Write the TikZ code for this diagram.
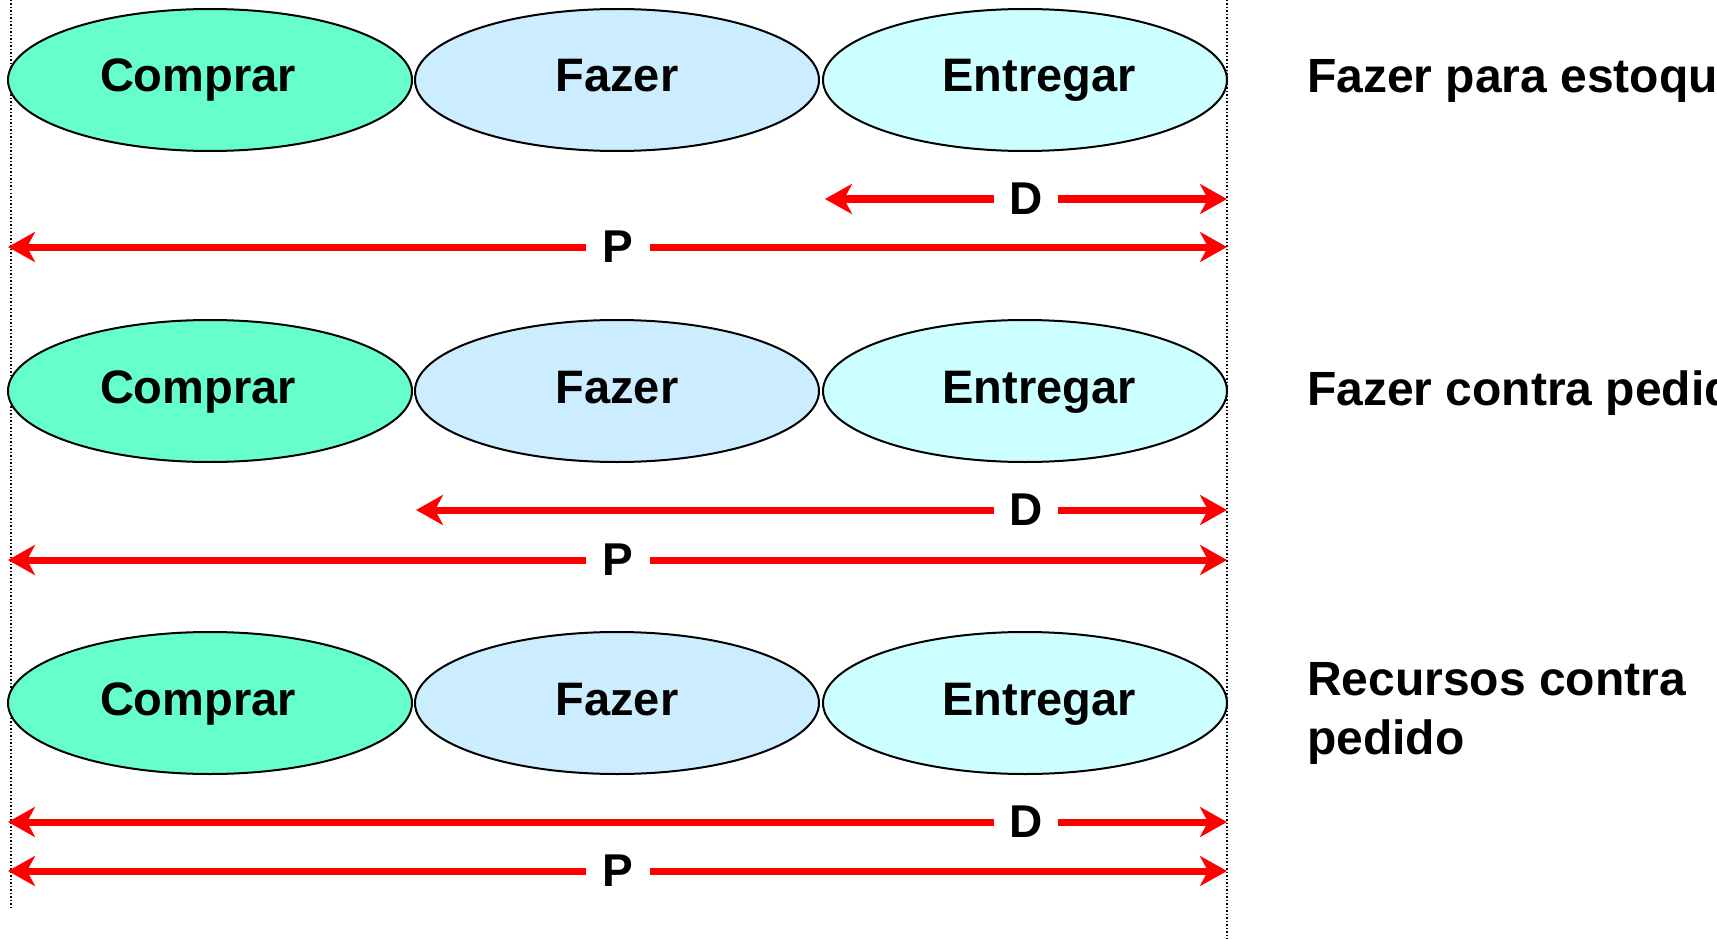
\documentclass[tikz,border=0pt]{standalone}
\usepackage{fontspec}
\setmainfont{Liberation Sans}
\usetikzlibrary{shapes.geometric,arrows.meta}
\definecolor{buycol}{HTML}{66FFCC}
\definecolor{makecol}{HTML}{CCECFF}
\definecolor{delcol}{HTML}{CCFFFF}
\definecolor{arrred}{HTML}{FF0000}
\begin{document}
\begin{tikzpicture}[x=1pt,y=-1pt,
  stage/.style={ellipse,draw=black,line width=2pt,minimum width=404pt,minimum height=142pt,inner sep=0pt,text height=34pt,text depth=10pt,font=\fontsize{47}{56}\selectfont\bfseries},
  buy/.style={stage,fill=buycol},
  make/.style={stage,fill=makecol},
  deliver/.style={stage,fill=delcol},
  redarr/.style={draw=arrred,line width=7pt,-{Stealth[length=27pt,width=30pt,inset=8pt]}},
  lab/.style={font=\fontsize{46}{55}\selectfont\bfseries,inner sep=0pt,minimum width=63pt},
  side/.style={font=\fontsize{48}{59}\selectfont\bfseries,anchor=west,align=left,inner sep=0pt},
  guide/.style={draw=black,dotted,line width=1.5pt}]
\useasboundingbox (0,0) rectangle (1717,939);
\clip (0,0) rectangle (1717,939);
% guide lines
\coordinate (gl1) at (11,0); \coordinate (gl2) at (11,907);
\coordinate (gr1) at (1227,0); \coordinate (gr2) at (1227,939);
\draw[guide] (gl1) -- (gl2);
\draw[guide] (gr1) -- (gr2);
% rows
\foreach \r/\y in {1/80, 2/391, 3/703}{
  \node[buy] (buy\r) at (210,\y) {Comprar\hspace*{24pt}};
  \node[make] (make\r) at (617,\y) {Fazer};
  \node[deliver] (del\r) at (1025,\y) {\hspace*{28pt}Entregar};
}
% D / P arrows
\foreach \r/\dy/\py/\dl in {1/199/247/825, 2/510/560/416, 3/822/871/8}{
  \node[lab] (D\r) at (1026,\dy) {D};
  \coordinate (DL\r) at (\dl,\dy);
  \coordinate (DR\r) at (1227,\dy);
  \draw[redarr] (D\r.west) -- (DL\r);
  \draw[redarr] (D\r.east) -- (DR\r);
  \node[lab] (P\r) at (618,\py) {P};
  \coordinate (PL\r) at (8,\py);
  \coordinate (PR\r) at (1227,\py);
  \draw[redarr] (P\r.west) -- (PL\r);
  \draw[redarr] (P\r.east) -- (PR\r);
}
% side labels
\node[side] (s1) at (1307,81) {Fazer para estoque};
\node[side] (s2) at (1307,393) {Fazer contra pedido};
\node[side] (s3) at (1307,713) {Recursos contra\\pedido};
\end{tikzpicture}
\end{document}
